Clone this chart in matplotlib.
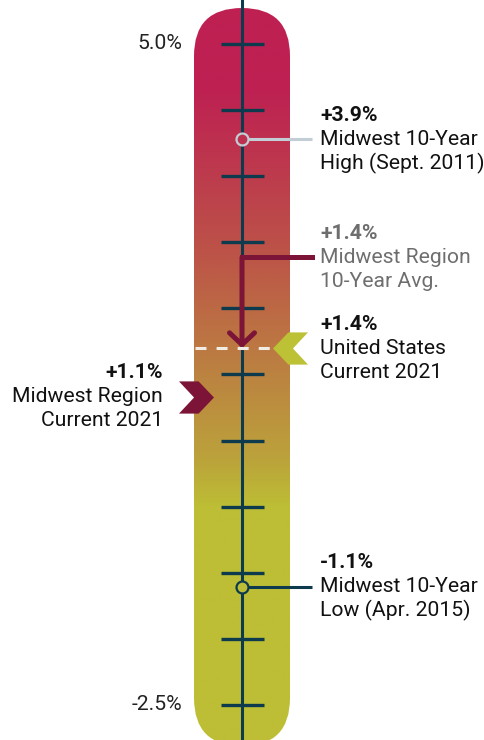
import numpy as np
import matplotlib
matplotlib.use('Agg')
import matplotlib.pyplot as plt
from matplotlib.patches import FancyBboxPatch
from matplotlib.path import Path
from matplotlib.colors import to_rgb

# --- data (percent on the thermometer scale)
scale_values = [5.0, -2.5]
scale_labels = ['5.0%', '-2.5%']
tick_values = np.linspace(5.0, -2.5, 11)

high_pos = 3.92
avg_pos = 2.58          # where the avg. leader starts, arrow runs down to us_pos
us_pos = 1.55
midwest_pos = 1.0
low_pos = -1.16

high_text = ['+3.9%', 'Midwest 10-Year', 'High (Sept. 2011)']
avg_text = ['+1.4%', 'Midwest Region', '10-Year Avg.']
us_text = ['+1.4%', 'United States', 'Current 2021']
midwest_text = ['+1.1%', 'Midwest Region', 'Current 2021']
low_text = ['-1.1%', 'Midwest 10-Year', 'Low (Apr. 2015)']

# --- colours
navy = '#0e3a4e'
maroon = '#7b1437'
lime = '#bdc135'
pale = '#c3cdd6'
grad_pos = [4.5, 2.6, 1.5, 0.3, -0.25]
grad_cols = ['#be2052', '#bc5448', '#bc7a42', '#bba23b', '#bdbe35']

# --- layout (pixels)
W, H = 484, 740
px = (705 - 44) / 7.5             # pixels per percent
y_top = 5.0 + 44 / px
y_bot = -2.5 - (H - 705) / px
bar_x0, bar_w = 194, 96
bar_top = y_top - 8 / px
bar_bot = y_bot - 6 / px
cx = 242
font = 'Roboto'
fs = 15.2


def bar_color(y):
    '''colour of the gradient at scale value y'''
    xp = grad_pos[::-1]
    rgb = np.array([to_rgb(c) for c in grad_cols[::-1]])
    return np.stack([np.interp(y, xp, rgb[:, k]) for k in range(3)], axis=-1)


def chevron(direction):
    '''chevron marker path, direction = 1 points right, -1 points left'''
    v = [(0.5, 0), (0.06, 0.46), (-0.5, 0.46), (-0.07, 0), (-0.5, -0.46), (0.06, -0.46), (0.5, 0)]
    v = [(direction * a, b) for a, b in v]
    return Path(v, [Path.MOVETO] + [Path.LINETO] * 5 + [Path.CLOSEPOLY])


fig = plt.figure(figsize=(W / 100, H / 100), dpi=100)
ax = fig.add_axes([0, 0, 1, 1])

# thermometer body with gradient
bar = FancyBboxPatch((bar_x0, bar_bot), bar_w, bar_top - bar_bot,
                     boxstyle='round,pad=0,rounding_size=48', mutation_aspect=1 / px,
                     facecolor='none', edgecolor='none')
ax.add_patch(bar)
rows = np.linspace(bar_top, bar_bot, 600)
img = ax.imshow(bar_color(rows)[:, None, :], extent=(bar_x0, bar_x0 + bar_w, bar_bot, bar_top),
                aspect='auto', interpolation='bilinear', zorder=1)
img.set_clip_path(bar)

# scale line and ticks
ax.axvline(cx, color=navy, lw=2.2, zorder=2)
ax.hlines(tick_values, cx - 21, cx + 22, color=navy, lw=2.4, zorder=2)
for v, s in zip(scale_values, scale_labels):
    ax.text(182, v, s, ha='right', va='center', fontsize=fs, family=font, color='#222222')

# 10-year high / low
ax.hlines(high_pos, cx + 6, 312, color=pale, lw=2.2, zorder=2)
ax.plot(cx, high_pos, 'o', ms=8.6, mew=1.6, mec=pale, mfc=bar_color(high_pos), zorder=4)
ax.hlines(low_pos, cx + 6, 312, color=navy, lw=2.2, zorder=2)
ax.plot(cx, low_pos, 'o', ms=8.6, mew=1.6, mec=navy, mfc=bar_color(low_pos), zorder=4)

# 10-year average arrow
ax.plot([312, cx], [avg_pos, avg_pos], color=maroon, lw=3.6, solid_capstyle='projecting', zorder=3)
ax.annotate('', xy=(cx, us_pos), xytext=(cx, avg_pos),
            arrowprops=dict(arrowstyle='->,head_length=0.85,head_width=0.9', color=maroon,
                            lw=3.6, shrinkA=0, shrinkB=0, joinstyle='miter'), zorder=3)

# US current dashed line and chevrons
ax.hlines(us_pos, bar_x0 + 1, 271, color='#f1ece4', lw=2.2, linestyles=(0, (3.6, 3.3)), zorder=3)
ax.plot(289.5, us_pos, marker=chevron(-1), ms=25.2, color=lime, mew=0, zorder=5)
ax.plot(195.5, midwest_pos, marker=chevron(1), ms=25.2, color=maroon, mew=0, zorder=5)


def label(x, y, lines, ha='left', color='#111111'):
    for i, s in enumerate(lines):
        ax.annotate(s, xy=(x, y), xytext=(0, (1 - i) * 24), textcoords='offset pixels',
                    ha=ha, va='center', fontsize=fs, family=font, color=color,
                    fontweight='bold' if i == 0 else 'normal')


label(320, high_pos, high_text)
label(320, avg_pos, avg_text, color='#6e6e6e')
label(320, us_pos, us_text)
label(163, midwest_pos, midwest_text, ha='right')
label(320, low_pos, low_text)

ax.set_xlim(0, W)
ax.set_ylim(y_bot, y_top)
ax.axis('off')
fig.savefig('out.png', dpi=100)
